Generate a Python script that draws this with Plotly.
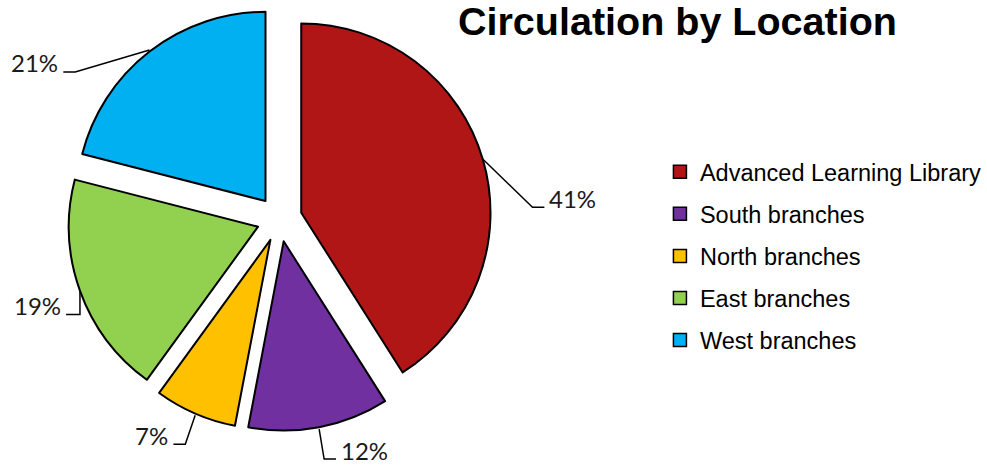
import math
import plotly.graph_objects as go

# ---- data ----
categories = ["Advanced Learning Library", "South branches", "North branches",
              "East branches", "West branches"]
shares = [41, 12, 7, 19, 21]
pct_labels = ["41%", "12%", "7%", "19%", "21%"]
colors = ["#B01616", "#7030A0", "#FFC000", "#92D050", "#00B0F0"]
title_text = "Circulation by Location"

# ---- layout / style ----
W, H = 987, 465
CX, CY = 282, 219          # pie centre in px
R = 191                    # pie radius in px
PULL = 0.12                # explode fraction
# elbow offset (dx, dy) from slice edge and horizontal run length, per slice
LEADERS = [(50, 48, 12), (5, 30, 12), (-10, 29, -12), (0, 23, -14), (-75, 22, -12)]
LABEL_FONT = dict(family="Lato, DejaVu Sans, sans-serif", size=24, color="#1a1a1a")

half = R * (1 + PULL)
dom_x = [(CX - half) / W, (CX + half) / W]
dom_y = [1 - (CY + half) / H, 1 - (CY - half) / H]

fig = go.Figure()
fig.add_trace(go.Pie(
    labels=categories, values=shares, sort=False, direction="clockwise",
    rotation=0, pull=[PULL] * len(shares), textinfo="none", hoverinfo="label+percent",
    marker=dict(colors=colors, line=dict(color="black", width=2)),
    domain=dict(x=dom_x, y=dom_y), showlegend=False,
))

# legend entries (one group each so spacing can match)
for name, c in zip(categories, colors):
    fig.add_trace(go.Scatter(
        x=[None], y=[None], mode="markers", name=name, legendgroup=name,
        marker=dict(symbol="square", size=13, color=c, line=dict(color="black", width=1.5)),
    ))

shapes = []
annotations = []
total = sum(shares)
cum = 0
for v, lab, (ox, oy, run) in zip(shares, pct_labels, LEADERS):
    mid = (cum + v / 2) / total
    cum += v
    th = 2 * math.pi * mid
    ux, uy = math.sin(th), -math.cos(th)
    ex, ey = CX + half * ux, CY + half * uy
    bx, by = ex + ox, ey + oy
    tx = bx + run
    shapes.append(dict(type="path", xref="x", yref="y",
                       path=f"M {ex:.1f},{ey:.1f} L {bx:.1f},{by:.1f} L {tx:.1f},{by:.1f}",
                       line=dict(color="black", width=1.5)))
    annotations.append(dict(x=tx + (3 if run > 0 else -3), y=by - 9, xref="x", yref="y",
                            text=lab, showarrow=False, font=LABEL_FONT,
                            xanchor="left" if run > 0 else "right", yanchor="middle"))

annotations.append(dict(x=684, y=21, xref="x", yref="y", text=f"<b>{title_text}</b>",
                        showarrow=False, xanchor="center", yanchor="middle",
                        font=dict(family="Liberation Sans, Arial, sans-serif", size=39.5,
                                  color="black")))

fig.update_layout(
    width=W, height=H, margin=dict(l=0, r=0, t=0, b=0),
    paper_bgcolor="white", plot_bgcolor="white",
    xaxis=dict(range=[0, W], visible=False, domain=[0, 1], fixedrange=True),
    yaxis=dict(range=[H, 0], visible=False, domain=[0, 1], fixedrange=True),
    shapes=shapes, annotations=annotations,
    legend=dict(x=666 / W, y=1 - 150 / H, xanchor="left", yanchor="top",
                tracegroupgap=8.5, bgcolor="rgba(0,0,0,0)",
                font=dict(family="Liberation Sans, Arial, sans-serif", size=23.5, color="black")),
    showlegend=True,
)

fig.write_html("out.html", config={"displayModeBar": False},
               post_script="document.body.style.margin='0';")
